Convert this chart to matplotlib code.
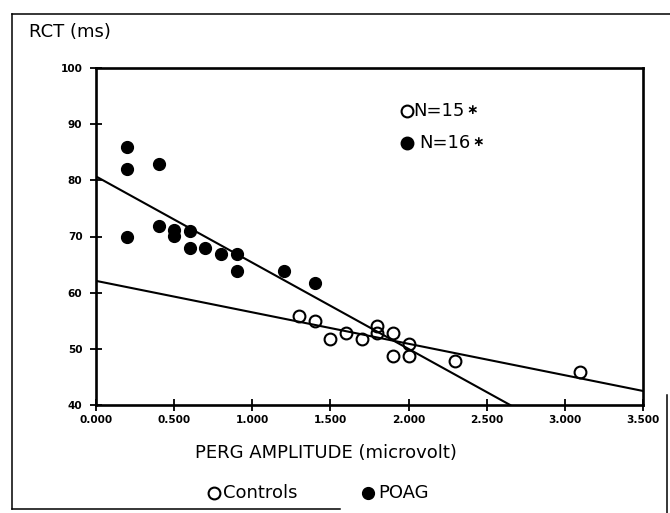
import matplotlib
matplotlib.use("Agg")
import matplotlib.pyplot as plt
from matplotlib.lines import Line2D

# RCT vs PERG amplitude
poag_x = [0.2, 0.2, 0.2, 0.4, 0.4, 0.5, 0.5, 0.6, 0.6, 0.7, 0.8, 0.9, 0.9, 1.2, 1.4]
poag_y = [85.9, 82.0, 70.0, 82.9, 71.9, 71.1, 70.1, 70.9, 68.0, 68.0, 66.9, 66.9, 63.9, 63.8, 61.8]
ctrl_x = [1.3, 1.4, 1.5, 1.6, 1.7, 1.8, 1.8, 1.9, 1.9, 2.0, 2.0, 2.3, 3.1]
ctrl_y = [55.8, 54.9, 51.8, 52.8, 51.7, 54.0, 52.9, 52.8, 48.8, 50.8, 48.8, 47.8, 45.8]

# regression line end points
poag_fit_x = [0.0, 2.65]
poag_fit_y = [80.7, 40.0]
ctrl_fit_x = [0.0, 3.5]
ctrl_fit_y = [62.1, 42.5]

x_ticks = [0.0, 0.5, 1.0, 1.5, 2.0, 2.5, 3.0, 3.5]
y_ticks = [40, 50, 60, 70, 80, 90, 100]
n_labels = ["N=15", "N=16"]

W, H = 670, 513
FONT = "DejaVu Sans"


def fx(px):
    return px / W


def fy(py):
    return 1 - py / H


fig = plt.figure(figsize=(W / 100, H / 100), dpi=100)
ax = fig.add_axes([fx(96), fy(405), (643 - 96) / W, (405 - 68) / H])

ax.plot(poag_fit_x, poag_fit_y, color="black", lw=1.5, zorder=2)
ax.plot(ctrl_fit_x, ctrl_fit_y, color="black", lw=1.5, zorder=2)
ax.plot(poag_x, poag_y, "o", ms=8.5, mfc="black", mec="black", ls="none", zorder=3)
ax.plot(ctrl_x, ctrl_y, "o", ms=8.5, mfc="none", mec="black", mew=1.5, ls="none", zorder=3)

ax.set_xlim(0, 3.5)
ax.set_ylim(40, 100)
ax.set_xticks(x_ticks)
ax.set_xticklabels([f"{v:.3f}" for v in x_ticks])
ax.set_yticks(y_ticks)
ax.set_yticklabels([str(v) for v in y_ticks])
for s in ax.spines.values():
    s.set_linewidth(1.9)
ax.tick_params(axis="both", direction="inout", width=1.3, labelsize=7.6)
ax.tick_params(axis="x", length=8, pad=3.5)
ax.tick_params(axis="y", length=9, pad=5.3)
for lab in ax.get_xticklabels() + ax.get_yticklabels():
    lab.set_fontweight("bold")
    lab.set_family(FONT)

# inset "legend" with counts; the star is a small separate glyph
for i, (lab, face) in enumerate(zip(n_labels, ["none", "black"])):
    yy = [110.7, 142.7][i]
    x0 = [413, 419][i]
    fig.add_artist(Line2D([fx(407)], [fy(yy)], marker="o", ms=8.5, mfc=face,
                          mec="black", mew=1.5, ls="none"))
    fig.text(fx(x0), fy(yy), lab, fontsize=13, family=FONT, ha="left", va="center")
    fig.text(fx(x0 + 53), fy(yy - 0.5), "\u2217", fontsize=10, family=FONT,
             fontweight="bold", ha="left", va="center")

fig.text(fx(29), fy(32), "RCT (ms)", fontsize=13, family=FONT, ha="left", va="center")
fig.text(fx(326), fy(453), "PERG AMPLITUDE (microvolt)", fontsize=13, family=FONT,
         ha="center", va="center")

# bottom legend
fig.add_artist(Line2D([fx(214)], [fy(493)], marker="o", ms=8.5, mfc="none",
                      mec="black", mew=1.5, ls="none"))
fig.text(fx(223), fy(493), "Controls", fontsize=13, family=FONT, ha="left", va="center")
fig.add_artist(Line2D([fx(368)], [fy(493)], marker="o", ms=8.5, mfc="black",
                      mec="black", ls="none"))
fig.text(fx(378), fy(493), "POAG", fontsize=13, family=FONT, ha="left", va="center")

# outer frame of the scanned figure
frame = [([12, 670], [14, 14]), ([12, 12], [14, 509]), ([12, 340], [509, 509]),
         ([667, 667], [395, 513])]
for xs, ys in frame:
    fig.add_artist(Line2D([fx(v) for v in xs], [fy(v) for v in ys], color="black", lw=1.1))

fig.savefig("out.png", dpi=100)
